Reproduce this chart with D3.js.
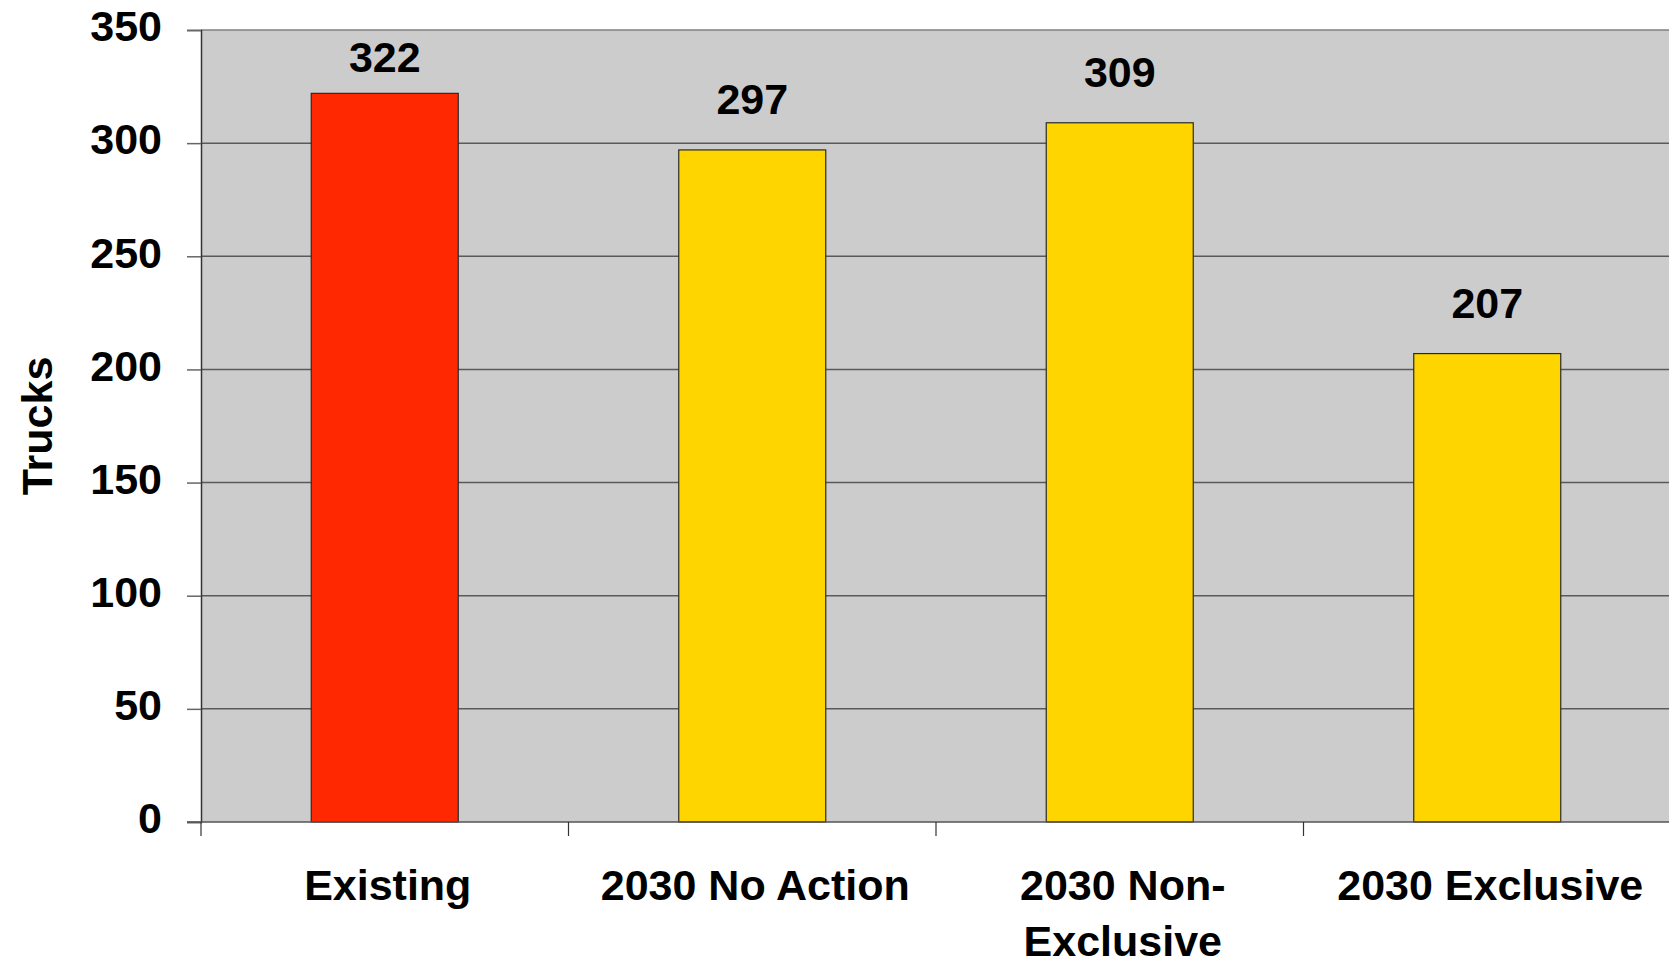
<!DOCTYPE html>
<html>
<head>
<meta charset="utf-8">
<script src="https://cdn.jsdelivr.net/npm/d3@7"></script>
<style>
  body { margin: 0; background: #fff; overflow: hidden; }
  text { font-family: "Liberation Sans", Arial, sans-serif; font-weight: bold; fill: #000; }
</style>
</head>
<body>
<svg id="chart"></svg>
<script>
const categories = ["Existing", "2030 No Action", "2030 Non-Exclusive", "2030 Exclusive"];
const labelLines = [["Existing"], ["2030 No Action"], ["2030 Non-", "Exclusive"], ["2030 Exclusive"]];
const trucks = [322, 297, 309, 207];
const barColors = ["#ff2800", "#ffd500", "#ffd500", "#ffd500"];
const yTicks = [0, 50, 100, 150, 200, 250, 300, 350];

const width = 1669, height = 960;
const margin = { top: 30, right: -2, bottom: 138, left: 201 };
const innerW = width - margin.left - margin.right;
const innerH = height - margin.top - margin.bottom;

const svg = d3.select("#chart").attr("width", width).attr("height", height);
const g = svg.append("g").attr("transform", "translate(" + margin.left + "," + margin.top + ")");

const x = d3.scaleBand().domain(categories).range([0, innerW]).paddingInner(0.6).paddingOuter(0.3);
const band = d3.scaleBand().domain(categories).range([0, innerW]);
const y = d3.scaleLinear().domain([0, 350]).range([innerH, 0]);

// plot background
g.append("rect")
  .attr("width", innerW)
  .attr("height", innerH)
  .attr("fill", "#cccccc");

// gridlines
g.selectAll(".grid")
  .data(yTicks.filter((t) => t > 0))
  .join("line")
  .attr("x1", 0)
  .attr("x2", innerW)
  .attr("y1", (d) => y(d))
  .attr("y2", (d) => y(d))
  .attr("stroke", (d) => d === 350 ? "#808080" : "#5a5a5a")
  .attr("stroke-width", 1.5);

// y axis
const yAxis = g.append("g")
  .call(d3.axisLeft(y).tickValues(yTicks).tickSize(14).tickPadding(25));
yAxis.select(".domain").attr("stroke", "#333").attr("stroke-width", 1.5);
yAxis.selectAll(".tick line").attr("stroke", "#666").attr("stroke-width", 1.5);
yAxis.selectAll("text").attr("font-size", 43).attr("dy", "0.25em");

// bars
g.selectAll(".bar")
  .data(trucks)
  .join("rect")
  .attr("class", "bar")
  .attr("x", (d, i) => x(categories[i]))
  .attr("y", (d) => y(d))
  .attr("width", x.bandwidth())
  .attr("height", (d) => y(0) - y(d))
  .attr("fill", (d, i) => barColors[i])
  .attr("stroke", "#2a2a2a")
  .attr("stroke-width", 1.2);

// value labels
g.selectAll(".val")
  .data(trucks)
  .join("text")
  .attr("class", "val")
  .attr("x", (d, i) => x(categories[i]) + x.bandwidth() / 2)
  .attr("y", (d) => Math.max(y(d) - 36, y(350) + 42))
  .attr("text-anchor", "middle")
  .attr("font-size", 43)
  .text((d) => d);

// x axis
g.append("line")
  .attr("x1", -14)
  .attr("x2", innerW)
  .attr("y1", y(0))
  .attr("y2", y(0))
  .attr("stroke", "#555")
  .attr("stroke-width", 1.5);

g.selectAll(".xtick")
  .data(categories)
  .join("line")
  .attr("x1", (d) => band(d))
  .attr("x2", (d) => band(d))
  .attr("y1", y(0))
  .attr("y2", y(0) + 14)
  .attr("stroke", "#333")
  .attr("stroke-width", 1.2);

const xl = g.selectAll(".xlab")
  .data(categories)
  .join("text")
  .attr("class", "xlab")
  .attr("text-anchor", "middle")
  .attr("font-size", 43)
  .attr("transform", (d) => "translate(" + (band(d) + band.bandwidth() / 2 + 3) + "," + (y(0) + 78) + ")");
xl.selectAll("tspan")
  .data((d, i) => labelLines[i])
  .join("tspan")
  .attr("x", 0)
  .attr("y", (d, i) => i * 56)
  .text((d) => d);

// y axis title
svg.append("text")
  .attr("transform", "translate(52,426) rotate(-90)")
  .attr("text-anchor", "middle")
  .attr("font-size", 43)
  .text("Trucks");
</script>
</body>
</html>
